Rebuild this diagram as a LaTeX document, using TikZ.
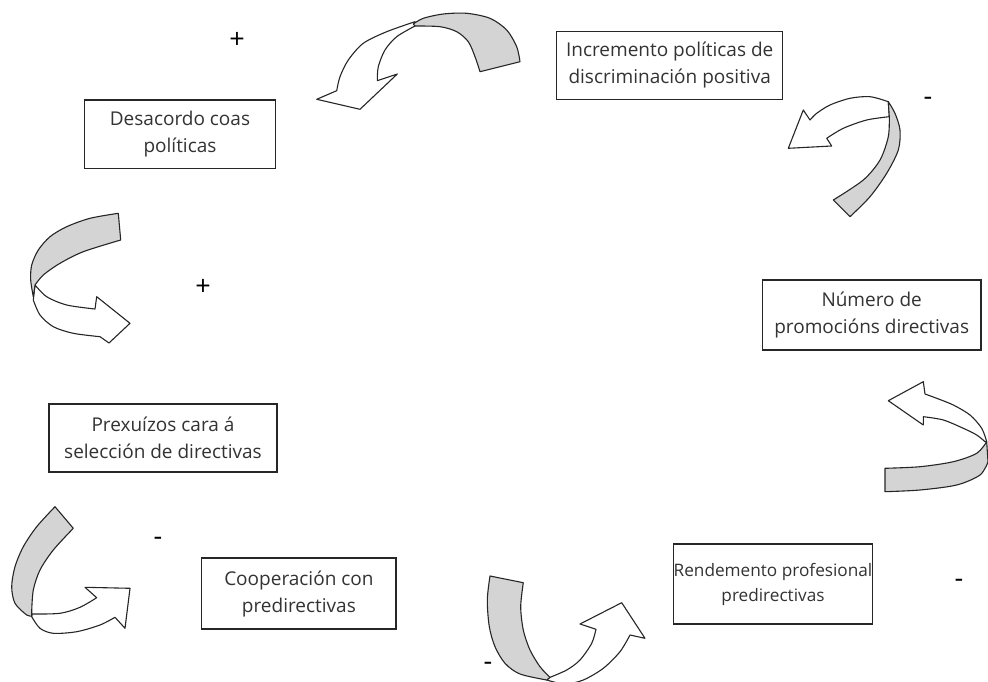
\documentclass[tikz,border=0pt]{standalone}
\usepackage{fontspec}
\setmainfont{Open Sans}
\definecolor{txtgrey}{HTML}{333333}
\definecolor{ribfill}{HTML}{D4D4D4}
\begin{document}
\begin{tikzpicture}[x=1pt,y=-1pt,
  box/.style={inner sep=0pt, align=center, text=txtgrey, font=\fontsize{19}{27}\selectfont,
    draw=black!85, line width=1.3pt, fill=white},
  sign/.style={inner sep=0pt, text=black, font=\fontsize{27}{28}\selectfont},
  ribw/.style={draw=black!85, fill=white, line width=1.1pt, line join=round},
  ribg/.style={draw=black!85, fill=ribfill, line width=1.1pt, line join=round}]
\useasboundingbox (0,0) rectangle (988,682);

% ---------- boxes ----------
\node[box, minimum width=226pt, minimum height=68pt] (b1) at (669.7,65.2) {Incremento políticas de\\discriminación positiva};
\node[box, minimum width=190.7pt, minimum height=68.3pt] (b2) at (180,134.2) {Desacordo coas\\políticas};
\node[box, minimum width=218.7pt, minimum height=70pt] (b3) at (871.7,315) {Número de\\promocións directivas};
\node[box, minimum width=228pt, minimum height=68pt] (b4) at (163,438) {Prexuízos cara á\\selección de directivas};
\node[box, minimum width=194.3pt, minimum height=71pt] (b5) at (298.9,593.5) {Cooperación con\\predirectivas};
\node[box, minimum width=198pt, minimum height=80pt, font=\fontsize{17.2}{25}\selectfont] (b6) at (773,584) {Rendemento profesional\\predirectivas};

% ---------- signs ----------
\node[sign] (s1) at (237,40) {+};
\node[sign] (s2) at (928,101) {-};
\node[sign] (s3) at (203,287) {+};
\node[sign] (s4) at (158,541) {-};
\node[sign] (s5) at (959,583) {-};
\node[sign] (s6) at (488,666) {-};

% ---------- arrow A (top) ----------
\filldraw[ribw] plot[smooth] coordinates {(415,21.7) (386.7,31.7) (363.3,43.3) (348.3,60) (340,76.7) (336.7,90.7)}
  -- (316.7,99.3) -- (360,109.3) -- (397.3,74) -- (377.3,80.7)
  -- plot[smooth] coordinates {(377.3,80.7) (378.3,66.7) (385,50) (396.7,36.7) (415,26)} -- cycle;
\filldraw[ribg] plot[smooth] coordinates {(520,61.7) (516.7,46.7) (506.7,30) (490,18.3) (466.7,13.3) (443.3,14) (423.3,18.3) (413.3,24)}
  -- plot[smooth] coordinates {(415,26) (440,26.7) (456.7,31.7) (468.3,41.7) (475,56.7) (480,71.7)} -- cycle;

% ---------- arrow B (right upper) ----------
\filldraw[ribw] plot[smooth] coordinates {(888.3,101.7) (870,96.7) (850,98.3) (830,105) (816.7,113.3) (810,120)}
  -- (803.3,110) -- (788.3,148.3) -- (831.7,146) -- (826.7,138.3)
  -- plot[smooth] coordinates {(826.7,138.3) (843.3,128.3) (866.7,120) (889.3,116.7)} -- cycle;
\filldraw[ribg] plot[smooth] coordinates {(850,216.7) (870,196.7) (886.7,173.3) (898.3,150) (900,130) (895,113.3) (888.3,101.7)}
  -- plot[smooth] coordinates {(889.3,116.7) (888.3,136.7) (880,160) (863.3,180) (833.3,200)} -- cycle;

% ---------- arrow C (left) ----------
\filldraw[ribw] plot[smooth] coordinates {(35,285) (46.7,296.7) (66.7,305) (95,309)}
  -- (96.7,296.7) -- (130,323.3) -- (109,343) -- (100,336.7)
  -- plot[smooth] coordinates {(100,336.7) (73.3,333.3) (53.3,326.7) (40,315) (33.3,300)} -- cycle;
\filldraw[ribg] plot[smooth] coordinates {(118.3,213.3) (90,218.3) (66.7,226.7) (50,236.7) (38.3,250) (31.7,265) (30.7,280) (33.3,296.7)}
  -- plot[smooth] coordinates {(35,285) (43.3,275) (60,263.3) (83.3,251.7) (120.7,240)} -- cycle;

% ---------- arrow D (right middle) ----------
\filldraw[ribw] plot[smooth] coordinates {(986.7,441.7) (981.7,428.3) (970,415) (953.3,405) (936.7,398.3) (925,394)}
  -- (923.3,381.7) -- (888.3,400.7) -- (923.3,425) -- (923.3,416.7)
  -- plot[smooth] coordinates {(923.3,416.7) (943.3,420) (963.3,428.3) (976.7,435) (985,441.7)} -- cycle;
\filldraw[ribg] plot[smooth] coordinates {(885,468.3) (920,466.7) (953.3,461.7) (976.7,453.3) (986.7,441.7)}
  -- plot[smooth] coordinates {(988,462) (980,475) (956.7,485) (920,490) (885,491.7)} -- cycle;

% ---------- arrow E (bottom left) ----------
\filldraw[ribw] plot[smooth] coordinates {(31.7,614) (60,613.3) (80,607.3) (96.7,597.7)}
  -- (85,587.3) -- (130,588.3) -- (125,628.3) -- (115,617.3)
  -- plot[smooth] coordinates {(115,617.3) (100,625) (76.7,631.7) (53.3,633.3) (40,628.3) (31.7,616.7)} -- cycle;
\filldraw[ribg] plot[smooth] coordinates {(55,506.7) (36.7,526.7) (23.3,546.7) (15,566.7) (11.7,586.7) (15,603.3) (26.7,615) (31.7,616)}
  -- plot[smooth] coordinates {(31.7,611.7) (33.3,590) (40,570) (53.3,550) (73.3,528.3)} -- cycle;

% ---------- arrow F (bottom middle) ----------
\filldraw[ribw] plot[smooth] coordinates {(550,677.3) (566.7,670) (580,660) (591.7,643.3) (596,629.3)}
  -- (580,624) -- (621.7,602.7) -- (645,638.3) -- (630,635)
  -- plot[smooth] coordinates {(630,635) (620,651.7) (603.3,668.3) (583.3,680) (565,684) (546.7,680)} -- cycle;
\filldraw[ribg] plot[smooth] coordinates {(490,576) (487.3,600) (489.3,626.7) (495,646.7) (505,663.3) (520,674) (546.7,680)}
  -- plot[smooth] coordinates {(550,677.3) (540,666.7) (530,650) (523.3,630) (520.7,606.7) (523.3,582.7)} -- cycle;
\end{tikzpicture}
\end{document}
